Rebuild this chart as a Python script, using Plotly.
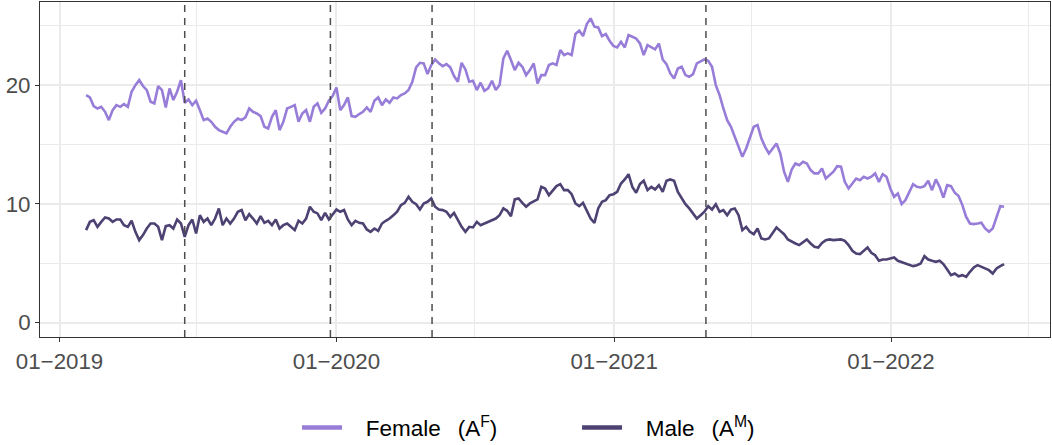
import pandas as pd
import plotly.graph_objects as go

start_date = "2019-02-05"
step = "5D"

female = [
    19.16, 18.96, 18.23, 18.03, 18.17, 17.75, 17.05, 17.89, 18.31, 18.17,
    18.40, 18.17, 19.44, 20.00, 20.42, 19.92, 19.58, 18.60, 18.46, 19.92,
    19.58, 18.12, 19.72, 18.74, 19.44, 20.42, 18.51, 18.79, 18.31, 18.68,
    17.89, 17.05, 17.19, 16.91, 16.49, 16.21, 16.07, 15.93, 16.49, 16.91,
    17.19, 17.05, 17.28, 18.03, 17.75, 17.61, 17.39, 16.49, 16.35, 17.33,
    17.89, 16.21, 16.91, 18.03, 18.17, 18.31, 16.91, 17.61, 17.89, 16.91,
    18.17,
    18.46, 17.67, 18.03, 18.68, 19.07, 19.80, 17.89, 18.31, 18.96, 17.39,
    17.33, 17.56, 17.75, 18.12, 17.75, 18.68, 18.96, 18.31, 18.79, 18.51,
    18.96, 18.88, 19.16, 19.30, 19.58, 20.28, 21.49, 21.88, 21.83, 20.93,
    21.69, 22.16, 21.83, 21.60, 21.77, 21.49, 20.76, 20.28, 21.88, 21.32,
    20.28, 20.37, 19.58, 20.20, 19.52, 19.72, 20.37, 19.58, 20.00, 22.25,
    22.89, 22.11, 21.26, 21.88, 21.54, 20.84, 21.26, 21.83, 20.14, 20.84,
    20.84,
    21.69, 21.83, 21.69, 22.95, 22.53, 22.67, 22.53, 24.30, 24.58, 24.13,
    25.14, 25.62, 24.92, 24.86, 24.13, 24.30, 23.74, 23.29, 23.17, 23.65,
    23.17, 24.21, 24.07, 23.93, 23.51, 22.53, 23.37, 23.17, 23.01, 23.51,
    22.16, 21.77, 20.98, 20.56, 21.40, 21.54, 20.84, 20.70, 20.93, 21.83,
    21.97, 22.16, 22.05, 21.54, 20.00, 19.16, 18.03, 17.05, 16.49, 15.65,
    14.66, 13.96, 14.66, 15.51, 16.49, 16.63, 15.51, 14.80, 14.24, 14.66,
    15.08, 14.24, 12.70, 11.85, 12.89, 13.40, 13.26, 13.54, 13.40, 12.84,
    12.56, 12.56, 12.98, 12.13, 12.42, 12.70, 13.17, 13.12, 11.85, 11.29,
    11.71, 12.13, 11.99, 12.28, 12.13, 12.28, 12.56, 11.85, 12.50, 12.28,
    11.29, 10.59, 10.87, 9.97, 10.31, 11.01, 11.66, 11.43, 11.38, 11.49,
    11.94, 11.15, 12.05, 11.43, 10.53, 11.57, 11.49, 10.93, 10.65, 9.89,
    8.90, 8.34, 8.29, 8.34, 8.40, 7.92, 7.64, 7.92, 8.90, 9.80,
    9.75,
]

male = [
    7.78, 8.48, 8.62, 8.06, 8.48, 8.85, 8.76, 8.48, 8.68, 8.68,
    8.20, 8.06, 8.57, 7.64, 6.94, 7.36, 7.92, 8.34, 8.34, 8.06,
    6.94, 8.12, 8.20, 7.92, 8.68, 8.34, 7.22, 8.20, 8.68, 7.50,
    9.04, 8.48, 8.76, 8.20, 8.76, 9.61, 8.20, 8.76, 8.34, 8.76,
    9.33, 9.47, 8.62, 9.13, 8.76, 8.34, 8.96, 8.40, 8.57, 8.20,
    8.68, 7.92, 8.20, 8.34, 8.06, 7.78, 8.57, 8.34, 8.76, 9.75,
    9.33,
    9.19, 8.62, 9.24, 8.68, 9.13, 9.52, 9.33, 9.47, 8.68, 8.20,
    8.57, 8.40, 8.34, 7.84, 7.64, 7.92, 7.72, 8.34, 8.57, 8.76,
    9.04, 9.33, 9.89, 10.08, 10.59, 10.17, 9.97, 9.52, 10.03, 10.17,
    10.45, 9.75, 9.52, 9.47, 9.33, 8.90, 9.24, 8.68, 8.06, 7.64,
    8.06, 8.01, 8.48, 8.20, 8.34, 8.48, 8.62, 8.76, 9.04, 9.61,
    9.41, 8.96, 10.37, 10.45, 10.08, 9.75, 10.03, 10.17, 10.37, 11.43,
    11.29,
    10.73, 11.15, 11.49, 11.66, 11.15, 11.15, 10.81, 10.03, 9.80, 10.08,
    9.47, 8.76, 8.40, 9.61, 10.17, 10.31, 10.73, 10.81, 11.01, 11.71,
    12.05, 12.50, 11.43, 10.93, 11.66, 11.94, 11.15, 11.43, 11.21, 11.57,
    11.01, 11.94, 12.05, 11.94, 11.01, 10.45, 9.97, 9.61, 9.19, 8.76,
    9.04, 9.33, 9.80, 9.52, 9.97, 9.33, 9.47, 9.04, 9.52, 9.61,
    9.04, 7.78, 8.06, 7.64, 7.44, 7.92, 7.08, 7.00, 7.08, 7.50,
    8.01, 7.72, 7.44, 7.00, 6.80, 6.66, 6.52, 6.80, 7.00, 6.66,
    6.38, 6.32, 6.71, 6.94, 7.00, 6.94, 6.94, 7.00, 6.88, 6.52,
    6.04, 5.81, 5.76, 6.04, 6.32, 5.87, 5.67, 5.20, 5.31, 5.31,
    5.39, 5.48, 5.20, 5.08, 4.97, 4.89, 4.75, 4.83, 4.97, 5.59,
    5.31, 5.20, 5.11, 5.20, 4.92, 4.47, 3.99, 4.13, 3.90, 3.99,
    3.85, 4.27, 4.64, 4.83, 4.69, 4.55, 4.41, 4.13, 4.55, 4.75,
    4.92,
]

event_dates = ["2019-06-15", "2019-12-24", "2020-05-06", "2021-05-02"]

series_names = ["Female\u2002\u2005(A<sup>F</sup>)", "Male\u2002\u2005(A<sup>M</sup>)"]
series_colors = ["#977DD8", "#4E4273"]

dates = pd.date_range(start_date, periods=len(female), freq=step)

FONT = "Liberation Sans, Arial, Helvetica, sans-serif"
LEAD = "\u2004\u2002"  # gap between legend key and its label

fig = go.Figure()
for name, vals, col in zip(series_names, [female, male], series_colors):
    fig.add_trace(go.Scatter(
        x=dates, y=vals, mode="lines", name=name, showlegend=False,
        line=dict(color=col, width=2.6),
    ))
# legend keys (thicker, as in the reference)
for name, col in zip(series_names, series_colors):
    fig.add_trace(go.Scatter(
        x=[None], y=[None], mode="lines", name=LEAD + name, showlegend=True,
        line=dict(color=col, width=4.5),
    ))

for d in event_dates:
    fig.add_vline(x=pd.Timestamp(d).timestamp() * 1000,
                  line=dict(color="#4D4D4D", width=1.5, dash="7px,6px"))

grid_major = "#EBEBEB"
axis_common = dict(
    showgrid=True, gridcolor=grid_major, gridwidth=1.6,
    ticks="outside", ticklen=4, tickwidth=1, tickcolor="#333333",
    showline=True, linecolor="#333333", linewidth=1, mirror=True,
    zeroline=False, automargin=False,
    tickfont=dict(family=FONT, size=22.3, color="#4D4D4D"),
)
fig.update_layout(
    width=1052, height=445,
    margin=dict(l=40, r=2, t=2, b=108, autoexpand=False),
    paper_bgcolor="white", plot_bgcolor="white",
    font=dict(family=FONT, size=22, color="#4D4D4D"),
    showlegend=True,
    legend=dict(
        orientation="h", x=0.2545, xanchor="left", y=-0.207, yanchor="top",
        font=dict(family=FONT, size=22.5, color="black"),
        itemwidth=40, entrywidth=225, bgcolor="rgba(0,0,0,0)",
        traceorder="normal",
    ),
    xaxis=dict(
        type="date",
        range=["2018-12-06 06:00", "2022-07-29 12:00"],
        tick0="2019-01-01", dtick="M12", tickformat="%m\u2212%Y",
        minor=dict(dtick="M6", tick0="2019-01-01", showgrid=True,
                   gridcolor=grid_major, gridwidth=0.8, ticklen=0),
        **axis_common,
    ),
    yaxis=dict(
        range=[-1.22, 27.0],
        tick0=0, dtick=10,
        minor=dict(dtick=5, tick0=0, showgrid=True,
                   gridcolor=grid_major, gridwidth=0.8, ticklen=0),
        **axis_common,
    ),
)

fig.write_html(
    "out.html",
    config={"displayModeBar": False},
    post_script="document.body.style.margin='0';document.body.style.padding='0';",
)
